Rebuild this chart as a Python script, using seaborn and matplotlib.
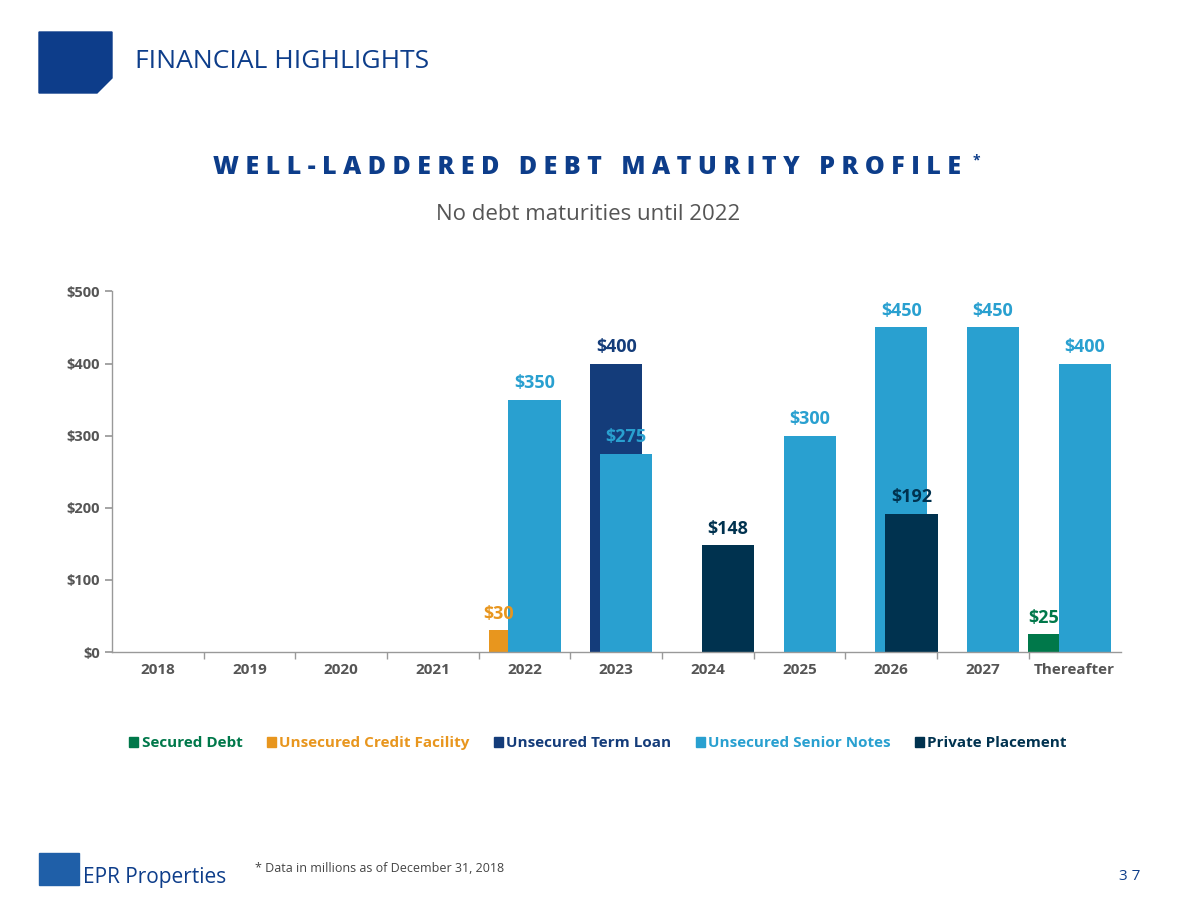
import matplotlib
matplotlib.use("Agg")
import matplotlib.pyplot as plt
import matplotlib.patches as mpatches
import numpy as np
import seaborn as sns

categories = ["2018", "2019", "2020", "2021", "2022", "2023", "2024", "2025", "2026", "2027", "Thereafter"]
series_names = ["Secured Debt", "Unsecured Credit Facility", "Unsecured Term Loan",
                "Unsecured Senior Notes", "Private Placement"]
secured = [0, 0, 0, 0, 0, 0, 0, 0, 0, 0, 25]
credit = [0, 0, 0, 0, 30, 0, 0, 0, 0, 0, 0]
term_loan = [0, 0, 0, 0, 0, 400, 0, 0, 0, 0, 0]
senior_notes = [0, 0, 0, 0, 350, 275, 0, 300, 450, 450, 400]
private_placement = [0, 0, 0, 0, 0, 0, 148, 0, 192, 0, 0]

colors = ["#00784A", "#E8961E", "#143C7A", "#29A0D0", "#00324F"]
offsets = [-0.34, -0.28, 0.0, 0.11, 0.22]
widths = [0.33, 0.22, 0.57, 0.57, 0.57]
TITLE_BLUE = "#0D3D8A"
GREY = "#555555"

sns.set_theme(style="white")
plt.rcParams["font.family"] = ["Open Sans", "DejaVu Sans"]

fig = plt.figure(figsize=(11.77, 9.02), dpi=100)
ax = fig.add_axes([0.095, 0.277, 0.857, 0.400])

x = np.arange(len(categories))
all_series = [secured, credit, term_loan, senior_notes, private_placement]
for vals, c, off, w in zip(all_series, colors, offsets, widths):
    v = np.array(vals)
    m = v > 0
    ax.bar(x[m] + off, v[m], width=w, color=c, linewidth=0, edgecolor="none", zorder=2)
    for xi, vi in zip(x[m] + off, v[m]):
        ax.text(xi, vi + 10, f"${vi}", ha="center", va="bottom", color=c,
                fontsize=13, fontweight="bold")

ax.set_xlim(-0.5, len(categories) - 0.5)
ax.set_ylim(0, 500)
ax.set_yticks(range(0, 501, 100))
ax.set_yticklabels([f"${v}" for v in range(0, 501, 100)], color=GREY, fontsize=10.5, fontweight="bold")
ax.set_xticks(x)
ax.set_xticklabels(categories, color=GREY, fontsize=11, fontweight="bold")
ax.set_xticks(x[:-1] + 0.5, minor=True)
ax.tick_params(axis="x", which="major", length=0, pad=8)
ax.tick_params(axis="x", which="minor", length=5, color="#999999", bottom=True)
ax.tick_params(axis="y", length=5, color="#999999", left=True)
for s in ["top", "right"]:
    ax.spines[s].set_visible(False)
for s in ["left", "bottom"]:
    ax.spines[s].set_color("#999999")
    ax.spines[s].set_linewidth(1)
ax.grid(False)

handles = [mpatches.Patch(color=c, label=n) for c, n in zip(colors, series_names)]
leg = fig.legend(handles=handles, loc="center", bbox_to_anchor=(0.508, 0.176), ncol=5,
                 frameon=False, handlelength=0.6, handleheight=0.6, handletextpad=0.2,
                 columnspacing=1.6, labelcolor=colors,
                 prop={"size": 11, "weight": "bold"})

# header block
fig.patches.append(mpatches.Polygon(
    [[39 / 1177, 1 - 32 / 902], [112 / 1177, 1 - 32 / 902], [112 / 1177, 1 - 78 / 902],
     [97 / 1177, 1 - 93 / 902], [39 / 1177, 1 - 93 / 902]],
    closed=True, color=TITLE_BLUE, transform=fig.transFigure))
fig.text(135 / 1177, 1 - 62 / 902, "FINANCIAL HIGHLIGHTS", color=TITLE_BLUE,
         fontsize=19, va="center", ha="left")
fig.text(0.499, 1 - 168 / 902, "W E L L - L A D D E R E D   D E B T   M A T U R I T Y   P R O F I L E",
         color=TITLE_BLUE, fontsize=18, fontweight="heavy", ha="center", va="center")
fig.text(973 / 1177, 1 - 160 / 902, "*", color=TITLE_BLUE, fontsize=10, fontweight="bold",
         ha="left", va="center")
fig.text(0.5, 1 - 214 / 902, "No debt maturities until 2022", color="#555555",
         fontsize=16, ha="center", va="center")

# footer
fig.patches.append(mpatches.Rectangle((39 / 1177, 1 - 885 / 902), 40 / 1177, 32 / 902,
                                      color="#1F5FA8", transform=fig.transFigure))
fig.text(83 / 1177, 1 - 877 / 902, "EPR Properties", color=TITLE_BLUE, fontsize=15,
         ha="left", va="center")
fig.text(255 / 1177, 1 - 868 / 902, "* Data in millions as of December 31, 2018", color="#444444",
         fontsize=9, ha="left", va="center")
fig.text(1140 / 1177, 1 - 876 / 902, "3 7", color=TITLE_BLUE, fontsize=11, ha="right", va="center")

fig.savefig("out.png", dpi=100, facecolor="white")
